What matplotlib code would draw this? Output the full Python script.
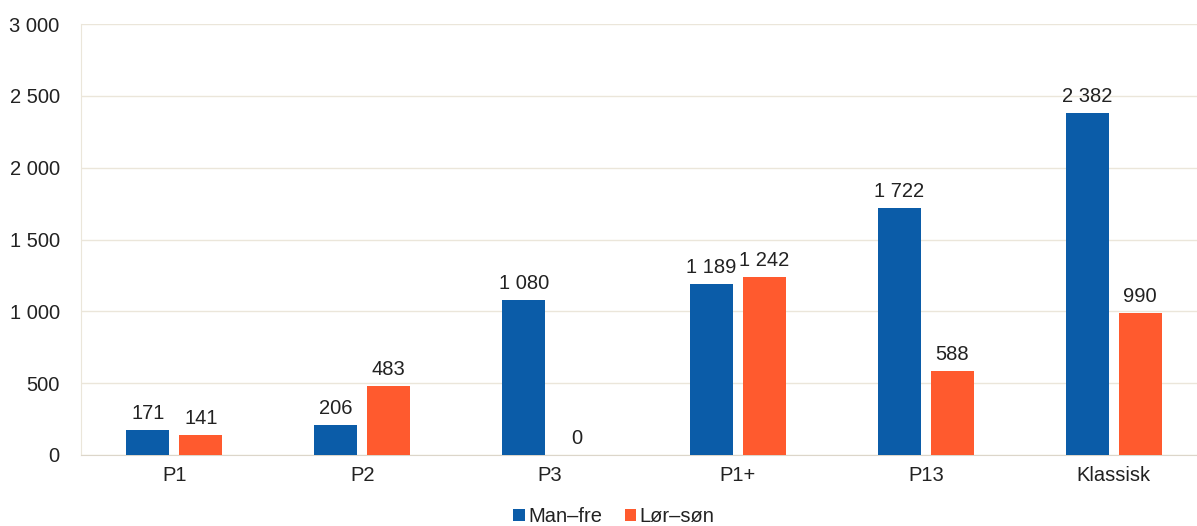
import matplotlib.pyplot as plt
import numpy as np

categories = ["P1", "P2", "P3", "P1+", "P13", "Klassisk"]
man_fre = [171, 206, 1080, 1189, 1722, 2382]
lor_son = [141, 483, 0, 1242, 588, 990]

BLUE = "#0b5ca8"
ORANGE = "#ff5a2e"
GRID = "#ebe6da"
TEXT = "#222222"

plt.rcParams["font.family"] = ["Liberation Sans", "DejaVu Sans"]


def fmt(v):
    return f"{v:,.0f}".replace(",", " ")


fig = plt.figure(figsize=(11.97, 5.26), dpi=100)
# plot area runs slightly past the right edge of the canvas
ax = fig.add_axes([0.0673, 0.135, 0.9415, 0.819])

x = np.arange(len(categories))
width = 0.229
gap = 0.053
off = (width + gap) / 2

bars1 = ax.bar(x - off, man_fre, width, color=BLUE, label="Man\u2013fre", zorder=3)
bars2 = ax.bar(x + off, lor_son, width, color=ORANGE, label="Lør\u2013søn", zorder=3)

for bars in (bars1, bars2):
    for bar in bars:
        h = bar.get_height()
        ax.annotate(fmt(h),
                    xy=(bar.get_x() + bar.get_width() / 2, h),
                    xytext=(0, 5), textcoords="offset points",
                    ha="center", va="bottom", fontsize=14.5, color=TEXT)

ax.set_xlim(-0.5, len(categories) - 0.5)
ax.set_ylim(0, 3000)
ax.set_yticks(np.arange(0, 3001, 500))
ax.set_yticklabels([fmt(v) for v in range(0, 3001, 500)])
ax.set_xticks(x)
ax.set_xticklabels(categories)
ax.tick_params(axis="both", length=0, labelsize=14.5, labelcolor=TEXT)
ax.tick_params(axis="y", pad=15)
ax.tick_params(axis="x", pad=8)

ax.grid(axis="y", color=GRID, linewidth=1, zorder=0)
for side in ("top", "right"):
    ax.spines[side].set_visible(False)
ax.spines["left"].set_color(GRID)
ax.spines["bottom"].set_color("#dcd6ca")

leg = ax.legend(loc="center", ncol=2, frameon=False, fontsize=14.5,
                handlelength=0.55, handleheight=0.55, handletextpad=0.2,
                columnspacing=1.1, labelcolor=TEXT)
# centre the legend on the visible canvas rather than the wider axes
leg.set_bbox_to_anchor((0.513, 0.018), transform=fig.transFigure)

plt.savefig("out.png", dpi=100)
plt.close()
